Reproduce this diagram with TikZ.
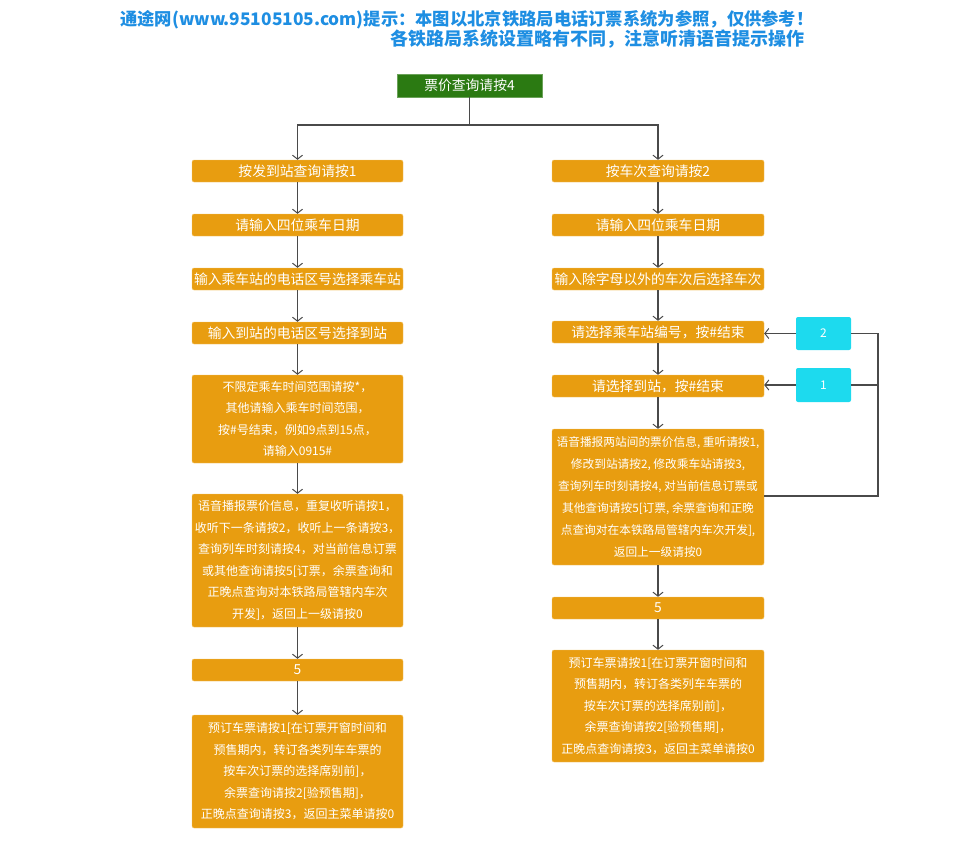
\documentclass[tikz,border=0pt]{standalone}
\usepackage{fontspec}
\newfontfamily\cjk{Noto Sans CJK SC}
\usetikzlibrary{arrows.meta}
\definecolor{og}{HTML}{E89D10}
\definecolor{ob}{HTML}{F2C46A}
\definecolor{gr}{HTML}{2B7A12}
\definecolor{cy}{HTML}{1DDAEE}
\definecolor{hd}{HTML}{1E8EE2}
\definecolor{ln}{HTML}{4A4A4A}
\begin{document}
\begin{tikzpicture}[x=1pt,y=-1pt,
  box/.style={draw=ob, fill=og, rounded corners=2pt, text=white, inner sep=0pt, minimum height=22, align=center, font=\cjk\fontsize{13.8}{16}\selectfont},
  lbox/.style={box, minimum width=211},
  rbox/.style={box, minimum width=212},
  multi/.style={font=\cjk\fontsize{12}{21.5}\selectfont},
  rmulti/.style={font=\cjk\fontsize{11.7}{22}\selectfont},
  cbox/.style={fill=cy, rounded corners=2pt, text=white, minimum width=55, inner sep=0pt, font=\cjk\fontsize{12}{14}\selectfont},
  conn/.style={draw=ln, line width=1.4pt},
  arr/.style={conn, -{Straight Barb[length=4pt,width=10pt,line width=1pt]}},
  hdr/.style={text=hd, anchor=west, inner sep=0pt}
]
\useasboundingbox (0,0) rectangle (957,854);
\node[hdr, font=\cjk\bfseries\fontsize{17.3}{20}\selectfont] (h1) at (120,20) {通途网(www.95105105.com)提示：本图以北京铁路局电话订票系统为参照，仅供参考！};
\node[hdr, font=\cjk\bfseries\fontsize{18}{20}\selectfont] (h2) at (390,39) {各铁路局系统设置略有不同，注意听清语音提示操作};

\node[fill=gr, draw=gr!70!white, text=white, minimum width=145, minimum height=23, inner sep=0pt, font=\cjk\fontsize{13.8}{16}\selectfont] (top) at (469.5,85.5) {票价查询请按4};

\node[lbox] (L1) at (297.5,171) {按发到站查询请按1};
\node[lbox] (L2) at (297.5,225) {请输入四位乘车日期};
\node[lbox] (L3) at (297.5,279) {输入乘车站的电话区号选择乘车站};
\node[lbox] (L4) at (297.5,333) {输入到站的电话区号选择到站};
\node[lbox, multi, minimum height=88] (L5) at (297.5,419) {不限定乘车时间范围请按*，\\其他请输入乘车时间范围，\\按\#号结束，例如9点到15点，\\请输入0915\#};
\node[lbox, multi, minimum height=133] (L6) at (297.5,560.5) {语音播报票价信息，重复收听请按1，\\收听下一条请按2，收听上一条请按3，\\查询列车时刻请按4，对当前信息订票\\或其他查询请按5[订票，余票查询和\\正晚点查询对本铁路局管辖内车次\\开发]，返回上一级请按0};
\node[lbox] (L7) at (297.5,670) {5};
\node[lbox, multi, minimum height=113] (L8) at (297.5,771.5) {预订车票请按1[在订票开窗时间和\\预售期内，转订各类列车车票的\\按车次订票的选择席别前]，\\余票查询请按2[验预售期]，\\正晚点查询请按3，返回主菜单请按0};

\node[rbox] (R1) at (658,171) {按车次查询请按2};
\node[rbox] (R2) at (658,225) {请输入四位乘车日期};
\node[rbox] (R3) at (658,279) {输入除字母以外的车次后选择车次};
\node[rbox] (R4) at (658,332) {请选择乘车站编号，按\#结束};
\node[rbox] (R5) at (658,386) {请选择到站，按\#结束};
\node[rbox, rmulti, minimum height=136] (R6) at (658,497) {语音播报两站间的票价信息, 重听请按1,\\修改到站请按2, 修改乘车站请按3,\\查询列车时刻请按4, 对当前信息订票或\\其他查询请按5[订票, 余票查询和正晚\\点查询对在本铁路局管辖内车次开发],\\返回上一级请按0};
\node[rbox] (R7) at (658,608) {5};
\node[rbox, multi, minimum height=112] (R8) at (658,706) {预订车票请按1[在订票开窗时间和\\预售期内，转订各类列车车票的\\按车次订票的选择席别前]，\\余票查询请按2[验预售期]，\\正晚点查询请按3，返回主菜单请按0};

\node[cbox, minimum height=33] (C2) at (823.5,333.5) {2};
\node[cbox, minimum height=34] (C1) at (823.5,385) {1};

\coordinate (split) at (469.5,125);
\coordinate (fbr) at (878,496);
\coordinate (fb2) at (878,333.5);
\coordinate (fb1) at (878,385);

\draw[conn] (top.south) -- (split);
\draw[arr] (split) -| (L1.north);
\draw[arr] (split) -| (R1.north);

\draw[arr] (L1) -- (L2);
\draw[arr] (L2) -- (L3);
\draw[arr] (L3) -- (L4);
\draw[arr] (L4) -- (L5);
\draw[arr] (L5) -- (L6);
\draw[arr] (L6) -- (L7);
\draw[arr] (L7) -- (L8);

\draw[arr] (R1) -- (R2);
\draw[arr] (R2) -- (R3);
\draw[arr] (R3) -- (R4);
\draw[arr] (R4) -- (R5);
\draw[arr] (R5) -- (R6);
\draw[arr] (R6) -- (R7);
\draw[arr] (R7) -- (R8);

\draw[conn] (R6.east |- fbr) -- (fbr) -- (fb2) -- (C2.east);
\draw[conn] (fb1) -- (C1.east);
\draw[arr] (C2.west) -- (R4.east |- C2.west);
\draw[arr] (C1.west) -- (R5.east |- C1.west);
\end{tikzpicture}
\end{document}
